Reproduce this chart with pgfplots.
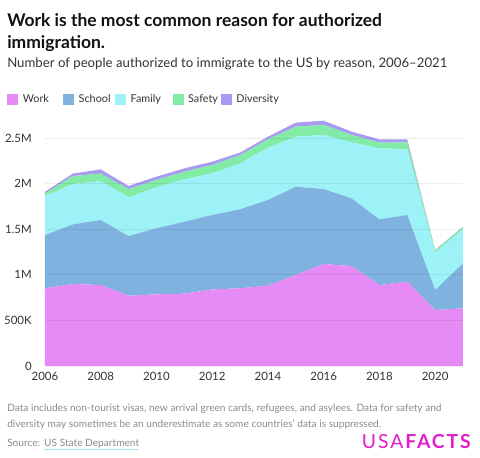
\documentclass[border=0pt]{standalone}
\usepackage{fontspec}
\setmainfont{Lato}
\usepackage{pgfplots}
\usepackage{pgfplotstable}
\pgfplotsset{compat=1.18}
\definecolor{workc}{HTML}{E68AF6}
\definecolor{schoolc}{HTML}{7FB2DE}
\definecolor{familyc}{HTML}{9CF2F6}
\definecolor{safetyc}{HTML}{82EBA6}
\definecolor{diversityc}{HTML}{A89CF2}
\definecolor{titlec}{HTML}{111111}
\definecolor{subc}{HTML}{333333}
\definecolor{notec}{HTML}{8A8A8A}
\definecolor{logoc}{HTML}{E21DC9}
\definecolor{linkc}{HTML}{9FE9EE}
\pgfplotstableread{
year work school family safety diversity
2006 852 584 428 26 20
2007 899 654 442 88 27
2008 888 712 428 82 46
2009 771 654 425 90 34
2010 786 724 450 80 36
2011 793 789 465 83 37
2012 840 816 457 91 36
2013 852 866 502 90 30
2014 881 939 574 91 29
2015 998 968 548 110 44
2016 1118 822 593 110 47
2017 1096 742 614 81 37
2018 888 720 779 62 36
2019 925 731 720 76 33
2020 614 219 410 22 7
2021 632 494 376 18 7
}\data
\begin{document}
\begin{tikzpicture}[x=0.75pt,y=0.75pt]
\path[use as bounding box] (0,0) rectangle (480,458);
\node[anchor=base west,inner sep=0,text=titlec,font=\bfseries\fontsize{13.1}{16}\selectfont] at (7,431) {Work is the most common reason for authorized};
\node[anchor=base west,inner sep=0,text=titlec,font=\bfseries\fontsize{13.1}{16}\selectfont] at (7,409) {immigration.};
\node[anchor=base west,inner sep=0,text=subc,font=\fontsize{9.9}{12}\selectfont] at (7,390) {Number of people authorized to immigrate to the US by reason, 2006–2021};
\begin{axis}[
  at={(33.75pt,69pt)}, anchor=south west,
  scale only axis, width=313.5pt, height=188.1pt,
  xmin=2006, xmax=2021, ymin=0, ymax=2750,
  stack plots=y,
  axis on top,
  axis line style={draw=none},
  major tick length=0pt,
  xtick={2006,2008,...,2020},
  xticklabels={2006,2008,2010,2012,2014,2016,2018,2020},
  ytick={0,500,1000,1500,2000,2500},
  yticklabels={0,500K,1M,1.5M,2M,2.5M},
  ymajorgrids,
  grid style={black,opacity=0.07,line width=0.6pt},
  tick label style={font=\fontsize{8.6}{10}\selectfont,text=subc},
  xticklabel style={anchor=north,inner sep=0pt,yshift=-4.5pt},
  yticklabel style={anchor=east,inner sep=0pt,xshift=-9.75pt},
  legend columns=5,
  legend style={at={(-0.0909,1.0618)},anchor=west,draw=none,fill=none,inner sep=0pt,
    font=\fontsize{8.1}{10}\selectfont,text=subc,
    nodes={inner sep=0pt},
    /tikz/every odd column/.append style={column sep=3.4pt},
    /tikz/every even column/.append style={column sep=0pt}},
  legend image code/.code={\fill[#1,draw=none] (0pt,-4.1pt) rectangle (8.25pt,4.1pt);},
  legend cell align=left,
]
\addplot[fill=workc,draw=none] table[x=year,y=work]{\data} \closedcycle;
\addlegendentry{\makebox[30.3pt][l]{Work}}
\addplot[fill=schoolc,draw=none] table[x=year,y=school]{\data} \closedcycle;
\addlegendentry{\makebox[27.3pt][l]{School}}
\addplot[fill=familyc,draw=none] table[x=year,y=family]{\data} \closedcycle;
\addlegendentry{\makebox[31.5pt][l]{Family}}
\addplot[fill=safetyc,draw=none] table[x=year,y=safety]{\data} \closedcycle;
\addlegendentry{\makebox[24.5pt][l]{Safety}}
\addplot[fill=diversityc,draw=none] table[x=year,y=diversity]{\data} \closedcycle;
\addlegendentry{Diversity}
\end{axis}
\node[anchor=base west,inner sep=0,text=notec,font=\fontsize{7.6}{10}\selectfont] at (7,46) {Data includes non-tourist visas, new arrival green cards, refugees, and asylees. Data for safety and};
\node[anchor=base west,inner sep=0,text=notec,font=\fontsize{7.6}{10}\selectfont] at (7,30) {diversity may sometimes be an underestimate as some countries’ data is suppressed.};
\node[anchor=base west,inner sep=0,text=notec,font=\fontsize{7.6}{10}\selectfont] (src) at (7,11) {Source:};
\node[anchor=base west,inner sep=0,text=notec,font=\fontsize{7.6}{10}\selectfont] (lnk) at ([xshift=2.6pt]src.base east) {US State Department};
\draw[linkc,line width=0.8pt] ([yshift=-2pt]lnk.base west) -- ([yshift=-2pt]lnk.base east);
\node[anchor=base east,inner sep=0,text=logoc,font=\fontsize{14.5}{16}\selectfont] at (473,9) {\addfontfeatures{LetterSpace=10}USA\textbf{FACTS}};
\end{tikzpicture}
\end{document}
